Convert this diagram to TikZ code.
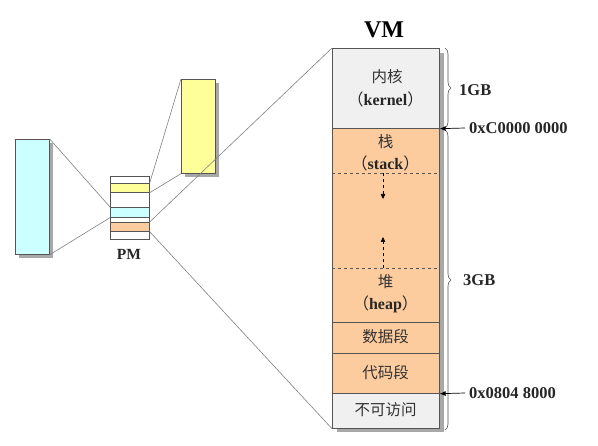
\documentclass[tikz,border=0pt]{standalone}
\usepackage{fontspec}
\setmainfont{Liberation Serif}
\newfontfamily\cjk{Noto Sans CJK SC}
\usetikzlibrary{decorations.pathreplacing,arrows.meta}
\definecolor{peach}{HTML}{FDCC9E}
\definecolor{lcyan}{HTML}{CCFFFF}
\definecolor{lyellow}{HTML}{FFFF99}
\definecolor{lgray}{HTML}{F0F0F0}
\definecolor{edge}{HTML}{555555}
\definecolor{shade}{HTML}{A8A8A8}
\begin{document}
\begin{tikzpicture}[x=1pt,y=-1pt,
  box/.style={draw=edge, line width=0.7pt, rectangle, inner sep=0pt, anchor=north west},
  link/.style={draw=gray, line width=0.6pt},
  shadowbox/.style={fill=shade, draw=none},
  txt/.style={font=\fontsize{16}{18}\selectfont\bfseries, text=black!85, inner sep=0pt},
  cjktxt/.style={font=\cjk\fontsize{15.5}{17}\selectfont, text=black!80, inner sep=0pt},
  brc/.style={draw=edge, line width=0.6pt, decorate, decoration={brace, amplitude=6pt}},
  addr/.style={-{Latex[length=6pt,width=5pt]}, line width=0.7pt, black}]
\useasboundingbox (0,0) rectangle (598,446);
% shadows
\fill[shadowbox] (19,143) rectangle (53,258);
\fill[shadowbox] (185,83) rectangle (219,177);
\fill[shadowbox] (337,53) rectangle (444,432);
% left boxes
\node[box, fill=lcyan, minimum width=34pt, minimum height=115pt] (cyanbox) at (15,139) {};
\node[box, fill=lyellow, minimum width=34pt, minimum height=94pt] (yellowbox) at (181,79) {};
% PM
\node[box, fill=white, minimum width=39pt, minimum height=63pt] (pm) at (110,176) {};
\node[box, fill=lyellow, minimum width=39pt, minimum height=9pt] (pmyellow) at (110,183) {};
\node[box, fill=lcyan, minimum width=39pt, minimum height=10pt] (pmcyan) at (110,207) {};
\node[box, fill=peach, minimum width=39pt, minimum height=9pt] (pmorange) at (110,222) {};
\node[txt, font=\fontsize{15.5}{17}\selectfont\bfseries] (pmlabel) at (129,254) {PM};
% VM
\node[box, fill=lgray, minimum width=107pt, minimum height=80pt] (kernel) at (332,48) {};
\node[box, fill=peach, minimum width=107pt, minimum height=194pt] (stackheap) at (332,128) {};
\node[box, fill=peach, minimum width=107pt, minimum height=31pt] (data) at (332,322) {};
\node[box, fill=peach, minimum width=107pt, minimum height=40pt] (code) at (332,353) {};
\node[box, fill=lgray, minimum width=107pt, minimum height=35pt] (noacc) at (332,393) {};
\node[font=\fontsize{24}{27}\selectfont\bfseries, inner sep=0pt] (vmlabel) at (384,30) {VM};
% texts
\node[cjktxt] (t1) at (387,77) {内核};
\node[txt] (t2) at (385.5,99) {{\cjk\mdseries （}kernel{\cjk\mdseries ）}};
\node[cjktxt] (t3) at (385.5,142) {栈};
\node[txt] (t4) at (385.5,163) {{\cjk\mdseries （}stack{\cjk\mdseries ）}};
\node[cjktxt] (t5) at (385.5,282) {堆};
\node[txt] (t6) at (385.5,304) {{\cjk\mdseries （}heap{\cjk\mdseries ）}};
\node[cjktxt] (t7) at (385.5,337) {数据段};
\node[cjktxt] (t8) at (385.5,373) {代码段};
\node[cjktxt] (t9) at (385.5,410) {不可访问};
% dashed lines and arrows
\coordinate (d1l) at (332,173); \coordinate (d1r) at (439,173);
\coordinate (d2l) at (332,268); \coordinate (d2r) at (439,268);
\draw[dashed, edge, line width=0.6pt] (d1l) -- (d1r);
\draw[dashed, edge, line width=0.6pt] (d2l) -- (d2r);
\coordinate (a1s) at (383,173); \coordinate (a1e) at (383,199);
\coordinate (a2s) at (383,268); \coordinate (a2e) at (383,237);
\draw[dashed, black, line width=0.6pt, -{Triangle[length=5pt,width=4.5pt]}] (a1s) -- (a1e);
\draw[dashed, black, line width=0.6pt, -{Triangle[length=5pt,width=4.5pt]}] (a2s) -- (a2e);
% links
\draw[link] (cyanbox.north east) -- (pmcyan.north west);
\draw[link] (cyanbox.south east) -- (pmcyan.south west);
\draw[link] (pmyellow.north east) -- (yellowbox.north west);
\draw[link] (pmyellow.south east) -- (yellowbox.south west);
\draw[link] (pmorange.north east) -- (kernel.north west);
\draw[link] (pmorange.south east) -- (noacc.south west);
% braces
\coordinate (b1s) at (445,48); \coordinate (b1e) at (445,128);
\coordinate (b2s) at (445,130); \coordinate (b2e) at (445,430);
\draw[brc] (b1s) -- (b1e);
\draw[brc] (b2s) -- (b2e);
\node[txt, anchor=west, font=\fontsize{16.5}{18}\selectfont\bfseries] (gb1) at (459,90) {1GB};
\node[txt, anchor=west, font=\fontsize{16.5}{18}\selectfont\bfseries] (gb3) at (463,280) {3GB};
% address arrows
\node[txt, anchor=west, font=\fontsize{16.5}{18}\selectfont\bfseries] (ad1) at (469,128) {0xC0000 0000};
\node[txt, anchor=west, font=\fontsize{16.5}{18}\selectfont\bfseries] (ad2) at (469,393) {0x0804 8000};
\draw[addr] (ad1.west) ++(-4,0) -- (kernel.south east);
\draw[addr] (ad2.west) ++(-4,0) -- (code.south east);
\end{tikzpicture}
\end{document}
